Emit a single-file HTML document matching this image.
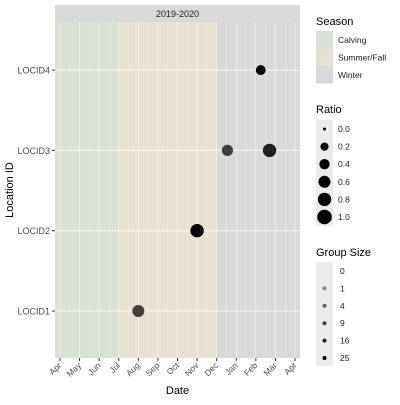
<!DOCTYPE html>
<html><head><meta charset="utf-8"><style>
body{margin:0;background:#fff}
svg{font-family:"Liberation Sans",sans-serif}
</style></head><body>
<svg width="400" height="400" viewBox="0 0 400 400">
<g id="plot"></g>
<g id="legend"></g>
</svg>
<script>
const monthLabels=["Apr","May","Jun","Jul","Aug","Sep","Oct","Nov","Dec","Jan","Feb","Mar","Apr"];
const locations=["LOCID1","LOCID2","LOCID3","LOCID4"];
// point data: month offset from 1 Apr 2019
const pointMonths=[4.0,7.0,8.55,10.7,10.25];
const pointLoc=["LOCID1","LOCID2","LOCID3","LOCID3","LOCID4"];
const pointRatio=[0.6,0.8,0.5,0.8,0.35];
const pointGroup=[9,25,9,16,25];
const seasonNames=["Calving","Summer/Fall","Winter"];
const seasonStart=[-0.25,3,8];
const seasonEnd=[3,8,12.25];
const seasonColors=["#d9e1d6","#e8e1d1","#d9d9d9"];
const ratioTicks=["0.0","0.2","0.4","0.6","0.8","1.0"];
const groupTicks=["0","1","4","9","16","25"];

const NS="http://www.w3.org/2000/svg";
const L=55,R=300,T=22,B=358;
const x=m=>60+m*(295-60)/12;
const y=loc=>311-locations.indexOf(loc)*80.3;
const rad=r=>1.5+5.8*Math.sqrt(r);
const alpha=g=>g<=0?0:0.3+0.7*Math.sqrt(g/25);
function mk(tag,attrs,parent){const e=document.createElementNS(NS,tag);for(const k in attrs)e.setAttribute(k,attrs[k]);parent.appendChild(e);return e;}
const plot=document.getElementById('plot');
const lg=document.getElementById('legend');
let s=mk('rect',{x:L,y:5,width:R-L,height:17,fill:'#d9d9d9'},plot);


let st=mk('text',{x:(L+R)/2,y:17,'font-size':9,'text-anchor':'middle',fill:'#1a1a1a'},plot);st.textContent="2019-2020";


mk('rect',{x:L,y:T,width:R-L,height:B-T,fill:'#ebebeb'},plot);
seasonNames.forEach((n,i)=>{
 const x0=Math.max(L,x(seasonStart[i])),x1=Math.min(R,x(seasonEnd[i]));
 const r=mk('rect',{x:x0,y:T,width:x1-x0,height:B-T,fill:seasonColors[i]},plot);
 
 
});
for(let m=0;m<=12;m+=0.5){mk('line',{x1:x(m),x2:x(m),y1:T,y2:B,stroke:'#fff','stroke-width':m%1?0.3:0.6,opacity:0.8},plot);}
locations.forEach(l=>{mk('line',{x1:L,x2:R,y1:y(l),y2:y(l),stroke:'#fff','stroke-width':1,opacity:0.8},plot);
 mk('line',{x1:L-3,x2:L,y1:y(l),y2:y(l),stroke:'#333'},plot);
 const t=mk('text',{x:L-5,y:y(l)+3.5,'font-size':9,'text-anchor':'end',fill:'#4d4d4d'},plot);t.textContent=l;
 
 
});
monthLabels.forEach((mn,i)=>{
 mk('line',{x1:x(i),x2:x(i),y1:B,y2:B+3,stroke:'#333'},plot);
 const t=mk('text',{x:x(i)+2,y:B+8,'font-size':8.5,'text-anchor':'end',fill:'#4d4d4d',transform:`rotate(-45 ${x(i)+2} ${B+8})`},plot);t.textContent=mn;
 
 
});
let xt=mk('text',{x:(L+R)/2,y:394,'font-size':11,'text-anchor':'middle',fill:'#000'},plot);xt.textContent="Date";


let yt=mk('text',{x:0,y:0,'font-size':11,'text-anchor':'middle',transform:`translate(13 ${(T+B)/2}) rotate(-90)`},plot);yt.textContent="Location ID";


pointMonths.forEach((m,i)=>{
 const c=mk('circle',{cx:x(m),cy:y(pointLoc[i]),r:rad(pointRatio[i]),fill:'#000','fill-opacity':alpha(pointGroup[i])},plot);
 
 
});
function title(t,yy,n){const e=mk('text',{x:316,y:yy,'font-size':11},lg);e.textContent=t;
 
 }
title("Season",25,'season-legend-title');
seasonNames.forEach((n,i)=>{
 const r=mk('rect',{x:316,y:31+i*17.5,width:17,height:17.5,fill:seasonColors[i]},lg);
 
 
 const t=mk('text',{x:338,y:43+i*17.5,'font-size':8.5,fill:'#1a1a1a'},lg);t.textContent=n;
});
title("Ratio",113,'ratio-legend-title');
mk('rect',{x:316,y:120,width:17,height:106,fill:'#ebebeb'},lg);
ratioTicks.forEach((v,i)=>{
 const c=mk('circle',{cx:324.5,cy:129+i*17.6,r:rad(+v),fill:'#000'},lg);
 
 
 const t=mk('text',{x:338,y:132+i*17.6,'font-size':8.5,fill:'#1a1a1a'},lg);t.textContent=v;
});
title("Group Size",256,'group-size-legend-title');
mk('rect',{x:316,y:262,width:17,height:104,fill:'#ebebeb'},lg);
groupTicks.forEach((v,i)=>{
 const c=mk('circle',{cx:324.5,cy:271+i*17.4,r:2,fill:'#000','fill-opacity':alpha(+v)},lg);
 
 
 const t=mk('text',{x:340,y:274+i*17.4,'font-size':8.5,fill:'#1a1a1a'},lg);t.textContent=v;
});
</script>
</body></html>
